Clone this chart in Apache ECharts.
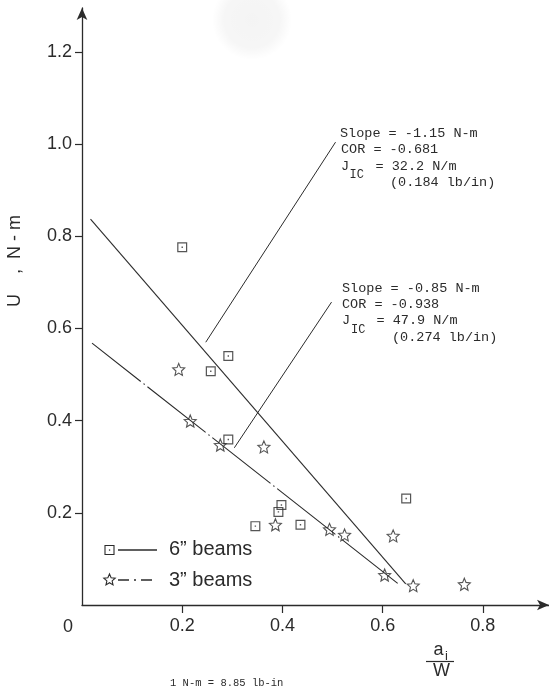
<!DOCTYPE html>
<html>
<head>
<meta charset="utf-8">
<script src="https://cdn.jsdelivr.net/npm/echarts@6/dist/echarts.min.js"></script>
<style>
  html, body { margin: 0; padding: 0; background: #fff; }
  #chart { width: 549px; height: 688px; }
</style>
</head>
<body>
<div id="chart"></div>
<script>
// Tick positions on both axes
const xTicks = [0.2, 0.4, 0.6, 0.8];
const yTicks = [0.2, 0.4, 0.6, 0.8, 1.0, 1.2];

// 6" beams: crack ratio a_i/W and energy U (N-m)
const beams6X = [0.200, 0.292, 0.257, 0.292, 0.398, 0.392, 0.346, 0.436, 0.647];
const beams6U = [0.776, 0.540, 0.507, 0.359, 0.217, 0.202, 0.171, 0.174, 0.231];

// 3" beams
const beams3X = [0.193, 0.216, 0.276, 0.363, 0.386, 0.494, 0.524, 0.621, 0.604, 0.661, 0.763];
const beams3U = [0.511, 0.399, 0.347, 0.343, 0.174, 0.164, 0.152, 0.150, 0.065, 0.042, 0.045];

// Least-squares fit lines (end points)
const fit6X = [0.017, 0.646];
const fit6U = [0.837, 0.046];
const fit3X = [0.020, 0.630];
const fit3U = [0.568, 0.047];

// Pointer lines from the fit lines to their result notes
const pointer6X = [0.247, 0.506];
const pointer6U = [0.570, 1.004];
const pointer3X = [0.304, 0.498];
const pointer3U = [0.341, 0.657];

const INK = '#2b2b2b';
const SANS = '"Liberation Sans", Arial, sans-serif';
const MONO = '"Liberation Mono", "DejaVu Sans Mono", monospace';

const zip = (xs, ys) => xs.map((x, i) => [x, ys[i]]);

// Open square with a centre dot
const squarePath = 'path://M0,0H10V10H0Z M1.2,1.2V8.8H8.8V1.2Z M4.3,4.3H5.7V5.7H4.3Z';

// Five-pointed star outline, as points around (cx, cy)
function starPoints(cx, cy, R) {
  const pts = [];
  for (let k = 0; k < 10; k++) {
    const a = (-90 + 36 * k) * Math.PI / 180;
    const r = k % 2 === 0 ? R : R * 0.46;
    pts.push([cx + r * Math.cos(a), cy + r * Math.sin(a)]);
  }
  return pts;
}
const starPath = 'path://M' + starPoints(10, 10, 10).map(p => p[0].toFixed(2) + ',' + p[1].toFixed(2)).join('L') + 'Z';

const chart = echarts.init(document.getElementById('chart'), null, { renderer: 'canvas' });

function txt(x, y, text, font, extra) {
  return {
    type: 'text', x, y, z: 50,
    style: Object.assign({ text, font, fill: INK, textAlign: 'left', textVerticalAlign: 'middle' }, extra || {})
  };
}

const noteFont = '13.5px ' + MONO;
const subFont = '12px ' + MONO;

chart.setOption({
  animation: false,
  backgroundColor: '#ffffff',
  grid: { left: 82, right: 0, top: 8, bottom: 83, containLabel: false },
  xAxis: {
    type: 'value', min: 0, max: 0.932, interval: 0.2,
    axisLine: { show: true, symbol: ['none', 'arrow'], symbolSize: [8, 12],
      lineStyle: { color: INK, width: 1.3 } },
    axisTick: { show: true, length: 8, inside: false, customValues: xTicks,
      lineStyle: { color: INK, width: 1.2 } },
    axisLabel: { show: true, margin: 12, customValues: xTicks, color: INK,
      fontFamily: SANS, fontSize: 18,
      formatter: v => (v === 0 ? '' : v.toFixed(1)) },
    splitLine: { show: false }
  },
  yAxis: {
    type: 'value', min: 0, max: 1.295, interval: 0.2,
    axisLine: { show: true, symbol: ['none', 'arrow'], symbolSize: [8, 12],
      lineStyle: { color: INK, width: 1.3 } },
    axisTick: { show: true, length: 7, inside: false, customValues: yTicks,
      lineStyle: { color: INK, width: 1.2 } },
    axisLabel: { show: true, margin: 10, customValues: yTicks, color: INK,
      fontFamily: SANS, fontSize: 18,
      formatter: v => (v === 0 ? '' : v.toFixed(1)) },
    splitLine: { show: false }
  },
  series: [
    {
      name: '6" fit', type: 'line', data: zip(fit6X, fit6U), symbol: 'none',
      lineStyle: { color: INK, width: 1.1 }, z: 2, silent: true
    },
    {
      name: '3" fit', type: 'line', data: zip(fit3X, fit3U), symbol: 'none',
      lineStyle: { color: INK, width: 1.1, type: [74, 3.5, 1.5, 3.5], dashOffset: 12 },
      z: 2, silent: true
    },
    {
      name: 'pointer 6"', type: 'line', data: zip(pointer6X, pointer6U), symbol: 'none',
      lineStyle: { color: INK, width: 1 }, z: 2, silent: true
    },
    {
      name: 'pointer 3"', type: 'line', data: zip(pointer3X, pointer3U), symbol: 'none',
      lineStyle: { color: INK, width: 1 }, z: 2, silent: true
    },
    {
      name: '6" beams', type: 'scatter', data: zip(beams6X, beams6U),
      symbol: squarePath, symbolSize: 10,
      itemStyle: { color: INK }, z: 5
    },
    {
      name: '3" beams', type: 'scatter', data: zip(beams3X, beams3U),
      symbol: starPath, symbolSize: 12,
      itemStyle: { color: 'rgba(0,0,0,0)', borderColor: INK, borderWidth: 1.1 }, z: 5
    }
  ],
  graphic: [
    // faint smudge near the top of the sheet
    { type: 'circle', z: -1, shape: { cx: 252, cy: 20, r: 40 },
      style: { fill: new echarts.graphic.RadialGradient(0.5, 0.5, 0.5, [
        { offset: 0, color: 'rgba(0,0,0,0.045)' },
        { offset: 0.7, color: 'rgba(0,0,0,0.035)' },
        { offset: 1, color: 'rgba(0,0,0,0)' }]) } },
    // origin label
    txt(68, 627, '0', '18px ' + SANS, { textAlign: 'center' }),
    // y axis title
    {
      type: 'text', x: 15, y: 261, rotation: Math.PI / 2, z: 50,
      style: { text: 'U    ,  N - m', font: '18px ' + SANS, fill: INK,
        textAlign: 'center', textVerticalAlign: 'middle' }
    },
    // x axis title: a_i over W
    txt(438.5, 650, 'a', '18px ' + SANS, { textAlign: 'center' }),
    txt(446.5, 656, 'i', '13px ' + SANS, { textAlign: 'center' }),
    { type: 'line', z: 50, shape: { x1: 426, y1: 661.5, x2: 454, y2: 661.5 },
      style: { stroke: INK, lineWidth: 1.2 } },
    txt(441.5, 671.5, 'W', '18px ' + SANS, { textAlign: 'center' }),
    // conversion note
    txt(170, 683, '1 N-m = 8.85 lb-in', '10.5px ' + MONO),

    // 6" results
    txt(340, 133, 'Slope = -1.15 N-m', noteFont),
    txt(341, 149.5, 'COR = -0.681', noteFont),
    txt(341, 166, 'J', noteFont),
    txt(349.5, 175, 'IC', subFont),
    txt(375.5, 166, '= 32.2 N/m', noteFont),
    txt(390, 182, '(0.184 lb/in)', noteFont),

    // 3" results
    txt(342, 288, 'Slope = -0.85 N-m', noteFont),
    txt(342, 304, 'COR = -0.938', noteFont),
    txt(342, 320, 'J', noteFont),
    txt(351, 329.5, 'IC', subFont),
    txt(376.5, 320, '= 47.9 N/m', noteFont),
    txt(392, 337, '(0.274 lb/in)', noteFont),

    // legend
    { type: 'rect', z: 50, shape: { x: 105, y: 545.5, width: 9, height: 9 },
      style: { fill: 'none', stroke: INK, lineWidth: 1.1 } },
    { type: 'rect', z: 50, shape: { x: 108.9, y: 549.4, width: 1.3, height: 1.3 },
      style: { fill: INK } },
    { type: 'line', z: 50, shape: { x1: 118, y1: 550, x2: 157, y2: 550 },
      style: { stroke: INK, lineWidth: 1.3 } },
    txt(169, 549, '6\u201D beams', '20px ' + SANS),
    { type: 'polygon', z: 50, shape: { points: starPoints(109.5, 580, 6) },
      style: { fill: 'none', stroke: INK, lineWidth: 1.1 } },
    { type: 'line', z: 50, shape: { x1: 118, y1: 580, x2: 157, y2: 580 },
      style: { stroke: INK, lineWidth: 1.3, lineDash: [11, 5, 2, 5] } },
    txt(169, 580, '3\u201D beams', '20px ' + SANS)
  ]
});
</script>
</body>
</html>
